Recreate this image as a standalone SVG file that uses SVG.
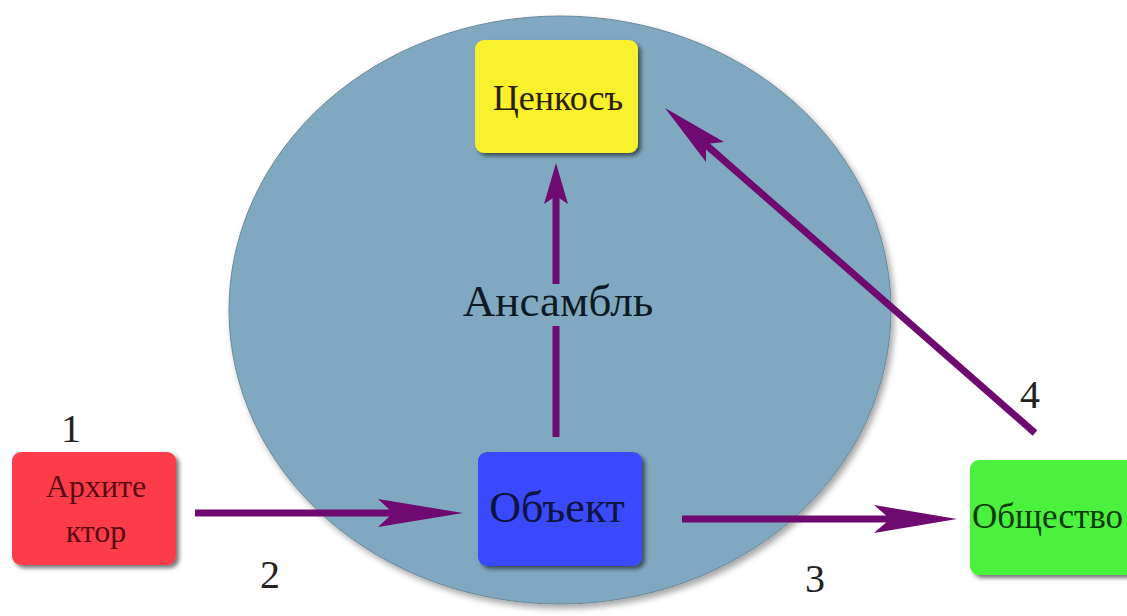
<svg xmlns="http://www.w3.org/2000/svg" width="1127" height="616" viewBox="0 0 1127 616">
  <defs>
    <filter id="sh" x="-10%" y="-10%" width="130%" height="130%">
      <feDropShadow dx="3" dy="3" stdDeviation="2" flood-color="#000" flood-opacity="0.55"/>
    </filter>
    <filter id="esh" x="-5%" y="-5%" width="115%" height="115%">
      <feDropShadow dx="3" dy="4" stdDeviation="3" flood-color="#000" flood-opacity="0.35"/>
    </filter>
  </defs>
  <style>
    .box { stroke: none; filter: url(#sh); }
    .lbl { font-family: "Liberation Serif", "DejaVu Serif", serif; text-anchor: middle; }
    .num { font-family: "Liberation Serif", "DejaVu Serif", serif; font-size: 40px; fill: #222; text-anchor: middle; }
    .line { stroke: #6e0a70; stroke-width: 7; fill: none; }
    .head { fill: #6e0a70; stroke: none; }
  </style>
  <rect width="1127" height="616" fill="#ffffff"/>
  <g id="circle">
    <ellipse cx="560" cy="310" rx="331" ry="294" fill="#80a9c1" stroke="#6a8898" stroke-width="1" filter="url(#esh)"/>
  </g>
  <g id="connectors">
    <line class="line" x1="195" y1="513" x2="395" y2="513"/>
    <polygon class="head" points="463,513 378,499 393,513 378,527"/>
    <line class="line" x1="682" y1="519" x2="892" y2="519"/>
    <polygon class="head" points="957,519 874,505 890,519 874,533"/>
    <line class="line" x1="556" y1="437" x2="556" y2="196"/>
    <polygon class="head" points="556,163 568,204 556,196 544,204"/>
    <line class="line" x1="1035" y1="433" x2="704" y2="143"/>
    <polygon class="head" points="665,108 724,142 706,144 706,162"/>
    <rect x="458" y="284" width="200" height="42" fill="#80a9c1"/>
    <text class="lbl" x="558" y="316" font-size="45" fill="#0d1a24">Ансамбль</text>
    <text class="num" x="71" y="442">1</text>
    <text class="num" x="270" y="588">2</text>
    <text class="num" x="815" y="592">3</text>
    <text class="num" x="1030" y="408">4</text>
  </g>
  <g id="node-tsenkos">
    <rect class="box" x="475" y="40" width="163" height="113" rx="9" fill="#f8f02a"/>
    <text class="lbl" x="558" y="110" font-size="36" fill="#2a2008">Ценкосъ</text>
  </g>
  <g id="node-arhitektor">
    <rect class="box" x="12" y="452" width="164" height="113" rx="9" fill="#fc3c4a"/>
    <text class="lbl" x="96" y="497" font-size="32" fill="#5a0a12">Архите</text>
    <text class="lbl" x="96" y="542" font-size="32" fill="#5a0a12">ктор</text>
  </g>
  <g id="node-obekt">
    <rect class="box" x="478" y="452" width="164" height="114" rx="9" fill="#3a4afc"/>
    <text class="lbl" x="557" y="522" font-size="44" fill="#0c1440">Объект</text>
  </g>
  <g id="node-obshchestvo">
    <rect class="box" x="970" y="460" width="170" height="115" rx="9" fill="#4cf23e"/>
    <text class="lbl" x="972" y="528" font-size="35" fill="#0a3a08" style="text-anchor:start">Общество</text>
  </g>
</svg>
